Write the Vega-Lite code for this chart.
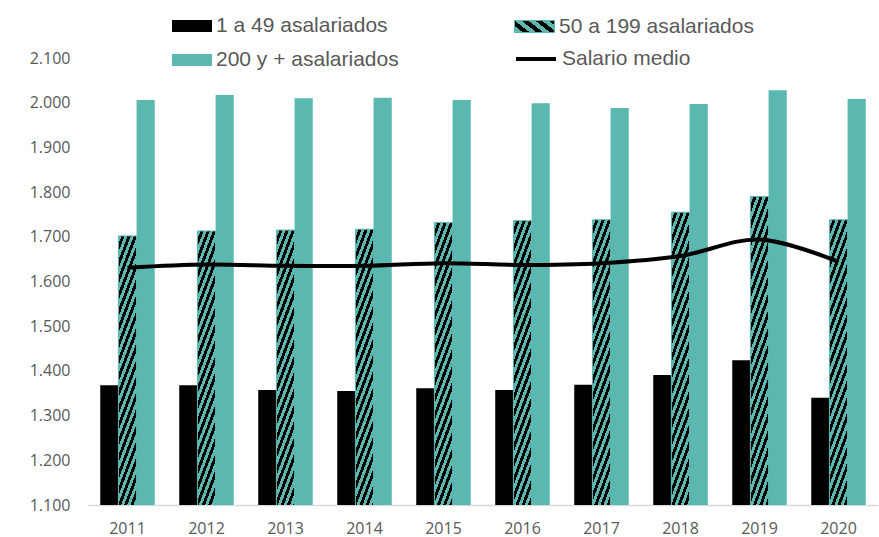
{
  "$schema": "https://vega.github.io/schema/vega-lite/v6.json",
  "width": 790,
  "height": 447,
  "autosize": {"type": "none"},
  "padding": {"left": 88, "top": 58, "right": 1, "bottom": 32},
  "background": "white",
  "config": {
    "view": {"stroke": null},
    "font": "Open Sans",
    "legend": {
      "title": null,
      "orient": "none",
      "labelFont": "Liberation Sans",
      "labelFontSize": 21,
      "labelColor": "#595959",
      "labelLimit": 300,
      "labelOffset": 9,
      "rowPadding": 9,
      "symbolSize": 900
    }
  },
  "data": {
    "values": [
      {"anio": "2011", "serie": "1 a 49 asalariados", "valor": 1368},
      {"anio": "2012", "serie": "1 a 49 asalariados", "valor": 1368},
      {"anio": "2013", "serie": "1 a 49 asalariados", "valor": 1357},
      {"anio": "2014", "serie": "1 a 49 asalariados", "valor": 1355},
      {"anio": "2015", "serie": "1 a 49 asalariados", "valor": 1361},
      {"anio": "2016", "serie": "1 a 49 asalariados", "valor": 1357},
      {"anio": "2017", "serie": "1 a 49 asalariados", "valor": 1369},
      {"anio": "2018", "serie": "1 a 49 asalariados", "valor": 1391},
      {"anio": "2019", "serie": "1 a 49 asalariados", "valor": 1424},
      {"anio": "2020", "serie": "1 a 49 asalariados", "valor": 1340},
      {"anio": "2011", "serie": "50 a 199 asalariados", "valor": 1702},
      {"anio": "2012", "serie": "50 a 199 asalariados", "valor": 1713},
      {"anio": "2013", "serie": "50 a 199 asalariados", "valor": 1715},
      {"anio": "2014", "serie": "50 a 199 asalariados", "valor": 1717},
      {"anio": "2015", "serie": "50 a 199 asalariados", "valor": 1732},
      {"anio": "2016", "serie": "50 a 199 asalariados", "valor": 1736},
      {"anio": "2017", "serie": "50 a 199 asalariados", "valor": 1738},
      {"anio": "2018", "serie": "50 a 199 asalariados", "valor": 1755},
      {"anio": "2019", "serie": "50 a 199 asalariados", "valor": 1790},
      {"anio": "2020", "serie": "50 a 199 asalariados", "valor": 1738},
      {"anio": "2011", "serie": "200 y + asalariados", "valor": 2006},
      {"anio": "2012", "serie": "200 y + asalariados", "valor": 2017},
      {"anio": "2013", "serie": "200 y + asalariados", "valor": 2010},
      {"anio": "2014", "serie": "200 y + asalariados", "valor": 2011},
      {"anio": "2015", "serie": "200 y + asalariados", "valor": 2006},
      {"anio": "2016", "serie": "200 y + asalariados", "valor": 1999},
      {"anio": "2017", "serie": "200 y + asalariados", "valor": 1988},
      {"anio": "2018", "serie": "200 y + asalariados", "valor": 1997},
      {"anio": "2019", "serie": "200 y + asalariados", "valor": 2028},
      {"anio": "2020", "serie": "200 y + asalariados", "valor": 2008},
      {"anio": "2011", "serie": "Salario medio", "valor": 1631},
      {"anio": "2012", "serie": "Salario medio", "valor": 1638},
      {"anio": "2013", "serie": "Salario medio", "valor": 1635},
      {"anio": "2014", "serie": "Salario medio", "valor": 1635},
      {"anio": "2015", "serie": "Salario medio", "valor": 1641},
      {"anio": "2016", "serie": "Salario medio", "valor": 1637},
      {"anio": "2017", "serie": "Salario medio", "valor": 1641},
      {"anio": "2018", "serie": "Salario medio", "valor": 1657},
      {"anio": "2019", "serie": "Salario medio", "valor": 1694},
      {"anio": "2020", "serie": "Salario medio", "valor": 1644}
    ]
  },
  "encoding": {
    "x": {
      "field": "anio",
      "type": "nominal",
      "scale": {"paddingInner": 0.31, "paddingOuter": 0.155},
      "axis": {
        "title": null,
        "labelAngle": 0,
        "ticks": false,
        "tickSize": 0,
        "grid": false,
        "domainColor": "#d9d9d9",
        "domainWidth": 1.5,
        "labelFont": "Open Sans",
        "labelFontSize": 16,
        "labelColor": "#595959",
        "labelPadding": 15
      }
    },
    "y": {
      "field": "valor",
      "type": "quantitative",
      "scale": {"domain": [1100, 2100], "nice": false, "zero": false},
      "axis": {
        "title": null,
        "values": [1100, 1200, 1300, 1400, 1500, 1600, 1700, 1800, 1900, 2000, 2100],
        "labelExpr": "replace(format(datum.value, ','), ',', '.')",
        "domain": false,
        "ticks": false,
        "tickSize": 0,
        "grid": false,
        "labelFont": "Open Sans",
        "labelFontSize": 16,
        "labelColor": "#595959",
        "labelPadding": 18
      }
    }
  },
  "layer": [
    {
      "transform": [{"filter": "datum.serie === '1 a 49 asalariados' || datum.serie === '200 y + asalariados'"}],
      "mark": {"type": "bar", "clip": true},
      "encoding": {
        "xOffset": {
          "field": "serie",
          "type": "nominal",
          "scale": {"domain": ["1 a 49 asalariados", "50 a 199 asalariados", "200 y + asalariados"], "paddingInner": 0, "paddingOuter": 0}
        },
        "fill": {
          "field": "serie",
          "type": "nominal",
          "scale": {"domain": ["1 a 49 asalariados", "200 y + asalariados"], "range": ["#000000", "#5bb8b1"]},
          "legend": {
            "legendX": 89,
            "legendY": -47,
            "symbolType": "M-1.333,-0.4H1.333V0.4H-1.333Z",
            "symbolStrokeWidth": 0
          }
        }
      }
    },
    {
      "transform": [{"filter": "datum.serie === '50 a 199 asalariados'"}],
      "mark": {
        "type": "bar",
        "clip": true,
        "strokeWidth": 1,
        "fill": {"gradient": "linear", "x1": 0, "y1": 0, "x2": 0.0664, "y2": 1.0625, "stops": [
          {"offset": 0, "color": "#5bb8b1"}, {"offset": 0.01, "color": "#5bb8b1"}, {"offset": 0.01, "color": "#000"}, {"offset": 0.02, "color": "#000"},
          {"offset": 0.02, "color": "#5bb8b1"}, {"offset": 0.03, "color": "#5bb8b1"}, {"offset": 0.03, "color": "#000"}, {"offset": 0.04, "color": "#000"},
          {"offset": 0.04, "color": "#5bb8b1"}, {"offset": 0.05, "color": "#5bb8b1"}, {"offset": 0.05, "color": "#000"}, {"offset": 0.06, "color": "#000"},
          {"offset": 0.06, "color": "#5bb8b1"}, {"offset": 0.07, "color": "#5bb8b1"}, {"offset": 0.07, "color": "#000"}, {"offset": 0.08, "color": "#000"},
          {"offset": 0.08, "color": "#5bb8b1"}, {"offset": 0.09, "color": "#5bb8b1"}, {"offset": 0.09, "color": "#000"}, {"offset": 0.1, "color": "#000"},
          {"offset": 0.1, "color": "#5bb8b1"}, {"offset": 0.11, "color": "#5bb8b1"}, {"offset": 0.11, "color": "#000"}, {"offset": 0.12, "color": "#000"},
          {"offset": 0.12, "color": "#5bb8b1"}, {"offset": 0.13, "color": "#5bb8b1"}, {"offset": 0.13, "color": "#000"}, {"offset": 0.14, "color": "#000"},
          {"offset": 0.14, "color": "#5bb8b1"}, {"offset": 0.15, "color": "#5bb8b1"}, {"offset": 0.15, "color": "#000"}, {"offset": 0.16, "color": "#000"},
          {"offset": 0.16, "color": "#5bb8b1"}, {"offset": 0.17, "color": "#5bb8b1"}, {"offset": 0.17, "color": "#000"}, {"offset": 0.18, "color": "#000"},
          {"offset": 0.18, "color": "#5bb8b1"}, {"offset": 0.19, "color": "#5bb8b1"}, {"offset": 0.19, "color": "#000"}, {"offset": 0.2, "color": "#000"},
          {"offset": 0.2, "color": "#5bb8b1"}, {"offset": 0.21, "color": "#5bb8b1"}, {"offset": 0.21, "color": "#000"}, {"offset": 0.22, "color": "#000"},
          {"offset": 0.22, "color": "#5bb8b1"}, {"offset": 0.23, "color": "#5bb8b1"}, {"offset": 0.23, "color": "#000"}, {"offset": 0.24, "color": "#000"},
          {"offset": 0.24, "color": "#5bb8b1"}, {"offset": 0.25, "color": "#5bb8b1"}, {"offset": 0.25, "color": "#000"}, {"offset": 0.26, "color": "#000"},
          {"offset": 0.26, "color": "#5bb8b1"}, {"offset": 0.27, "color": "#5bb8b1"}, {"offset": 0.27, "color": "#000"}, {"offset": 0.28, "color": "#000"},
          {"offset": 0.28, "color": "#5bb8b1"}, {"offset": 0.29, "color": "#5bb8b1"}, {"offset": 0.29, "color": "#000"}, {"offset": 0.3, "color": "#000"},
          {"offset": 0.3, "color": "#5bb8b1"}, {"offset": 0.31, "color": "#5bb8b1"}, {"offset": 0.31, "color": "#000"}, {"offset": 0.32, "color": "#000"},
          {"offset": 0.32, "color": "#5bb8b1"}, {"offset": 0.33, "color": "#5bb8b1"}, {"offset": 0.33, "color": "#000"}, {"offset": 0.34, "color": "#000"},
          {"offset": 0.34, "color": "#5bb8b1"}, {"offset": 0.35, "color": "#5bb8b1"}, {"offset": 0.35, "color": "#000"}, {"offset": 0.36, "color": "#000"},
          {"offset": 0.36, "color": "#5bb8b1"}, {"offset": 0.37, "color": "#5bb8b1"}, {"offset": 0.37, "color": "#000"}, {"offset": 0.38, "color": "#000"},
          {"offset": 0.38, "color": "#5bb8b1"}, {"offset": 0.39, "color": "#5bb8b1"}, {"offset": 0.39, "color": "#000"}, {"offset": 0.4, "color": "#000"},
          {"offset": 0.4, "color": "#5bb8b1"}, {"offset": 0.41, "color": "#5bb8b1"}, {"offset": 0.41, "color": "#000"}, {"offset": 0.42, "color": "#000"},
          {"offset": 0.42, "color": "#5bb8b1"}, {"offset": 0.43, "color": "#5bb8b1"}, {"offset": 0.43, "color": "#000"}, {"offset": 0.44, "color": "#000"},
          {"offset": 0.44, "color": "#5bb8b1"}, {"offset": 0.45, "color": "#5bb8b1"}, {"offset": 0.45, "color": "#000"}, {"offset": 0.46, "color": "#000"},
          {"offset": 0.46, "color": "#5bb8b1"}, {"offset": 0.47, "color": "#5bb8b1"}, {"offset": 0.47, "color": "#000"}, {"offset": 0.48, "color": "#000"},
          {"offset": 0.48, "color": "#5bb8b1"}, {"offset": 0.49, "color": "#5bb8b1"}, {"offset": 0.49, "color": "#000"}, {"offset": 0.5, "color": "#000"},
          {"offset": 0.5, "color": "#5bb8b1"}, {"offset": 0.51, "color": "#5bb8b1"}, {"offset": 0.51, "color": "#000"}, {"offset": 0.52, "color": "#000"},
          {"offset": 0.52, "color": "#5bb8b1"}, {"offset": 0.53, "color": "#5bb8b1"}, {"offset": 0.53, "color": "#000"}, {"offset": 0.54, "color": "#000"},
          {"offset": 0.54, "color": "#5bb8b1"}, {"offset": 0.55, "color": "#5bb8b1"}, {"offset": 0.55, "color": "#000"}, {"offset": 0.56, "color": "#000"},
          {"offset": 0.56, "color": "#5bb8b1"}, {"offset": 0.57, "color": "#5bb8b1"}, {"offset": 0.57, "color": "#000"}, {"offset": 0.58, "color": "#000"},
          {"offset": 0.58, "color": "#5bb8b1"}, {"offset": 0.59, "color": "#5bb8b1"}, {"offset": 0.59, "color": "#000"}, {"offset": 0.6, "color": "#000"},
          {"offset": 0.6, "color": "#5bb8b1"}, {"offset": 0.61, "color": "#5bb8b1"}, {"offset": 0.61, "color": "#000"}, {"offset": 0.62, "color": "#000"},
          {"offset": 0.62, "color": "#5bb8b1"}, {"offset": 0.63, "color": "#5bb8b1"}, {"offset": 0.63, "color": "#000"}, {"offset": 0.64, "color": "#000"},
          {"offset": 0.64, "color": "#5bb8b1"}, {"offset": 0.65, "color": "#5bb8b1"}, {"offset": 0.65, "color": "#000"}, {"offset": 0.66, "color": "#000"},
          {"offset": 0.66, "color": "#5bb8b1"}, {"offset": 0.67, "color": "#5bb8b1"}, {"offset": 0.67, "color": "#000"}, {"offset": 0.68, "color": "#000"},
          {"offset": 0.68, "color": "#5bb8b1"}, {"offset": 0.69, "color": "#5bb8b1"}, {"offset": 0.69, "color": "#000"}, {"offset": 0.7, "color": "#000"},
          {"offset": 0.7, "color": "#5bb8b1"}, {"offset": 0.71, "color": "#5bb8b1"}, {"offset": 0.71, "color": "#000"}, {"offset": 0.72, "color": "#000"},
          {"offset": 0.72, "color": "#5bb8b1"}, {"offset": 0.73, "color": "#5bb8b1"}, {"offset": 0.73, "color": "#000"}, {"offset": 0.74, "color": "#000"},
          {"offset": 0.74, "color": "#5bb8b1"}, {"offset": 0.75, "color": "#5bb8b1"}, {"offset": 0.75, "color": "#000"}, {"offset": 0.76, "color": "#000"},
          {"offset": 0.76, "color": "#5bb8b1"}, {"offset": 0.77, "color": "#5bb8b1"}, {"offset": 0.77, "color": "#000"}, {"offset": 0.78, "color": "#000"},
          {"offset": 0.78, "color": "#5bb8b1"}, {"offset": 0.79, "color": "#5bb8b1"}, {"offset": 0.79, "color": "#000"}, {"offset": 0.8, "color": "#000"},
          {"offset": 0.8, "color": "#5bb8b1"}, {"offset": 0.81, "color": "#5bb8b1"}, {"offset": 0.81, "color": "#000"}, {"offset": 0.82, "color": "#000"},
          {"offset": 0.82, "color": "#5bb8b1"}, {"offset": 0.83, "color": "#5bb8b1"}, {"offset": 0.83, "color": "#000"}, {"offset": 0.84, "color": "#000"},
          {"offset": 0.84, "color": "#5bb8b1"}, {"offset": 0.85, "color": "#5bb8b1"}, {"offset": 0.85, "color": "#000"}, {"offset": 0.86, "color": "#000"},
          {"offset": 0.86, "color": "#5bb8b1"}, {"offset": 0.87, "color": "#5bb8b1"}, {"offset": 0.87, "color": "#000"}, {"offset": 0.88, "color": "#000"},
          {"offset": 0.88, "color": "#5bb8b1"}, {"offset": 0.89, "color": "#5bb8b1"}, {"offset": 0.89, "color": "#000"}, {"offset": 0.9, "color": "#000"},
          {"offset": 0.9, "color": "#5bb8b1"}, {"offset": 0.91, "color": "#5bb8b1"}, {"offset": 0.91, "color": "#000"}, {"offset": 0.92, "color": "#000"},
          {"offset": 0.92, "color": "#5bb8b1"}, {"offset": 0.93, "color": "#5bb8b1"}, {"offset": 0.93, "color": "#000"}, {"offset": 0.94, "color": "#000"},
          {"offset": 0.94, "color": "#5bb8b1"}, {"offset": 0.95, "color": "#5bb8b1"}, {"offset": 0.95, "color": "#000"}, {"offset": 0.96, "color": "#000"},
          {"offset": 0.96, "color": "#5bb8b1"}, {"offset": 0.97, "color": "#5bb8b1"}, {"offset": 0.97, "color": "#000"}, {"offset": 0.98, "color": "#000"},
          {"offset": 0.98, "color": "#5bb8b1"}, {"offset": 0.99, "color": "#5bb8b1"}, {"offset": 0.99, "color": "#000"}, {"offset": 1, "color": "#000"}
        ]}
      },
      "encoding": {
        "xOffset": {
          "field": "serie",
          "type": "nominal",
          "scale": {"domain": ["1 a 49 asalariados", "50 a 199 asalariados", "200 y + asalariados"], "paddingInner": 0, "paddingOuter": 0}
        },
        "stroke": {
          "field": "serie",
          "type": "nominal",
          "scale": {"domain": ["50 a 199 asalariados"], "range": ["#5bb8b1"]},
          "legend": {
            "legendX": 431,
            "legendY": -47,
            "symbolType": "M-1.333,-0.4H1.333V0.4H-1.333Z",
            "symbolStrokeWidth": 1,
            "encode": {
              "symbols": {
                "update": {
                  "fill": {"value": {"gradient": "linear", "x1": 0, "y1": 0, "x2": 1.193, "y2": 0.358, "stops": [
                    {"offset": 0, "color": "#5bb8b1"}, {"offset": 0.0625, "color": "#5bb8b1"}, {"offset": 0.0625, "color": "#000"}, {"offset": 0.125, "color": "#000"},
                    {"offset": 0.125, "color": "#5bb8b1"}, {"offset": 0.1875, "color": "#5bb8b1"}, {"offset": 0.1875, "color": "#000"}, {"offset": 0.25, "color": "#000"},
                    {"offset": 0.25, "color": "#5bb8b1"}, {"offset": 0.3125, "color": "#5bb8b1"}, {"offset": 0.3125, "color": "#000"}, {"offset": 0.375, "color": "#000"},
                    {"offset": 0.375, "color": "#5bb8b1"}, {"offset": 0.4375, "color": "#5bb8b1"}, {"offset": 0.4375, "color": "#000"}, {"offset": 0.5, "color": "#000"},
                    {"offset": 0.5, "color": "#5bb8b1"}, {"offset": 0.5625, "color": "#5bb8b1"}, {"offset": 0.5625, "color": "#000"}, {"offset": 0.625, "color": "#000"},
                    {"offset": 0.625, "color": "#5bb8b1"}, {"offset": 0.6875, "color": "#5bb8b1"}, {"offset": 0.6875, "color": "#000"}, {"offset": 0.75, "color": "#000"},
                    {"offset": 0.75, "color": "#5bb8b1"}, {"offset": 0.8125, "color": "#5bb8b1"}, {"offset": 0.8125, "color": "#000"}, {"offset": 0.875, "color": "#000"},
                    {"offset": 0.875, "color": "#5bb8b1"}, {"offset": 0.9375, "color": "#5bb8b1"}, {"offset": 0.9375, "color": "#000"}, {"offset": 1, "color": "#000"}
                  ]}}
                }
              }
            }
          }
        }
      }
    },
    {
      "transform": [{"filter": "datum.serie === 'Salario medio'"}],
      "mark": {"type": "line", "strokeWidth": 4, "interpolate": "cardinal"},
      "encoding": {
        "color": {
          "field": "serie",
          "type": "nominal",
          "scale": {"domain": ["Salario medio"], "range": ["#000000"]},
          "legend": {
            "legendX": 431,
            "legendY": -16,
            "symbolType": "M-1.333,0H1.333",
            "symbolStrokeWidth": 4
          }
        }
      }
    }
  ]
}
